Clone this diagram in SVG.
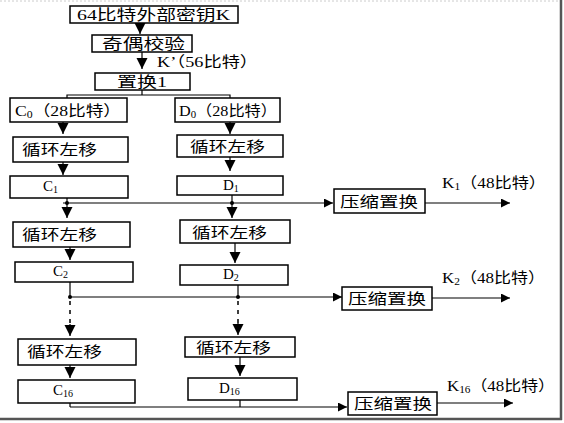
<svg xmlns="http://www.w3.org/2000/svg" width="564" height="423" viewBox="0 0 564 423">
<defs>
<style>
.box{fill:#fff;stroke:#000;stroke-width:1.5}
.ln{fill:none;stroke:#000;stroke-width:1.2}
.dash{fill:none;stroke:#000;stroke-width:1.5;stroke-dasharray:4 5}
.t{font-family:"Liberation Serif","Noto Sans CJK SC",serif;font-size:15px;fill:#000}
.sub{font-size:10px}
</style>
<marker id="av" viewBox="0 0 10 10" refX="10" refY="5" markerUnits="userSpaceOnUse" markerWidth="11" markerHeight="13" orient="auto"><path d="M0,0 L10,5 L0,10 Z" fill="#000"/></marker>
<marker id="ah" viewBox="0 0 10 10" refX="10" refY="5" markerUnits="userSpaceOnUse" markerWidth="15" markerHeight="9" orient="auto"><path d="M0,0 L10,5 L0,10 Z" fill="#000"/></marker>
</defs>
<rect width="564" height="423" fill="#fff"/>
<g id="frame">
<line x1="0" y1="1" x2="560" y2="1" stroke="#ccc" stroke-width="1" stroke-dasharray="2 2"/>
<line x1="561" y1="0" x2="561" y2="420" stroke="#555" stroke-width="2.5"/>
<line x1="0" y1="419" x2="562" y2="419" stroke="#555" stroke-width="2.5"/>
</g>
<g id="connectors">
<line class="ln" x1="140" y1="23" x2="140" y2="34" marker-end="url(#av)"/>
<line class="ln" x1="142" y1="52" x2="142" y2="69" marker-end="url(#av)"/>
<path class="ln" d="M142,90 V95 M67,98 V95 H230 V98"/>
<line class="ln" x1="63" y1="122" x2="63" y2="134" marker-end="url(#av)"/>
<line class="ln" x1="230" y1="122" x2="230" y2="134" marker-end="url(#av)"/>
<line class="ln" x1="63" y1="162" x2="63" y2="175" marker-end="url(#av)"/>
<line class="ln" x1="230" y1="157" x2="230" y2="171" marker-end="url(#av)"/>
<line class="ln" x1="67" y1="198" x2="67" y2="218" marker-end="url(#av)"/>
<line class="ln" x1="232" y1="195" x2="232" y2="218" marker-end="url(#av)"/>
<line class="ln" x1="63" y1="203" x2="333" y2="203" marker-end="url(#ah)"/>
<line class="ln" x1="425" y1="203" x2="510" y2="203" marker-end="url(#ah)"/>
<circle cx="67" cy="203" r="2"/>
<circle cx="232" cy="203" r="2"/>
<line class="ln" x1="70" y1="247" x2="70" y2="260" marker-end="url(#av)"/>
<line class="ln" x1="235" y1="243" x2="235" y2="263" marker-end="url(#av)"/>
<line class="ln" x1="70" y1="282" x2="70" y2="297"/>
<line class="ln" x1="238" y1="285" x2="238" y2="297"/>
<line class="ln" x1="70" y1="297" x2="342" y2="297" marker-end="url(#ah)"/>
<line class="ln" x1="432" y1="298" x2="510" y2="298" marker-end="url(#ah)"/>
<circle cx="70" cy="297" r="2"/>
<circle cx="238" cy="297" r="2"/>
<line class="dash" x1="70" y1="301" x2="70" y2="325"/>
<line class="ln" x1="70" y1="324" x2="70" y2="336" marker-end="url(#av)"/>
<line class="dash" x1="238" y1="301" x2="238" y2="324"/>
<line class="ln" x1="238" y1="323" x2="238" y2="335" marker-end="url(#av)"/>
<line class="ln" x1="70" y1="365" x2="70" y2="378" marker-end="url(#av)"/>
<line class="ln" x1="240" y1="357" x2="240" y2="376" marker-end="url(#av)"/>
<path class="ln" d="M70,403 V407 M240,400 V407"/>
<line class="ln" x1="70" y1="407" x2="347" y2="407" marker-end="url(#ah)"/>
<line class="ln" x1="437" y1="403" x2="513" y2="403" marker-end="url(#ah)"/>
</g>
<g id="key64"><rect class="box" x="70" y="6" width="168" height="17"/><text class="t" x="77" y="20" textLength="153" lengthAdjust="spacingAndGlyphs">64比特外部密钥K</text></g>
<g id="parity"><rect class="box" x="92" y="35" width="100" height="17"/><text class="t" x="102" y="49" textLength="83" lengthAdjust="spacingAndGlyphs">奇偶校验</text></g>
<g id="kprime-label"><text class="t" x="157" y="67" textLength="101" lengthAdjust="spacingAndGlyphs">K’（56比特）</text></g>
<g id="pc1"><rect class="box" x="95" y="73" width="95" height="17"/><text class="t" x="117" y="87" textLength="50" lengthAdjust="spacingAndGlyphs">置换1</text></g>
<g id="c0"><rect class="box" x="10" y="98" width="117" height="24"/><text class="t" x="15" y="116" textLength="106" lengthAdjust="spacingAndGlyphs">C<tspan class="sub" dy="2">0</tspan><tspan dy="-2">（28比特）</tspan></text></g>
<g id="d0"><rect class="box" x="175" y="98" width="105" height="24"/><text class="t" x="179" y="116" textLength="98" lengthAdjust="spacingAndGlyphs">D<tspan class="sub" dy="2">0</tspan><tspan dy="-2">（28比特）</tspan></text></g>
<g id="lsc1"><rect class="box" x="13" y="137" width="115" height="25"/><text class="t" x="22" y="155" textLength="75" lengthAdjust="spacingAndGlyphs">循环左移</text></g>
<g id="lsd1"><rect class="box" x="177" y="135" width="106" height="22"/><text class="t" x="190" y="152" textLength="75" lengthAdjust="spacingAndGlyphs">循环左移</text></g>
<g id="c1"><rect class="box" x="10" y="176" width="118" height="22"/><text class="t" x="43" y="191">C<tspan class="sub" dy="2">1</tspan></text></g>
<g id="d1"><rect class="box" x="177" y="176" width="106" height="19"/><text class="t" x="223" y="190">D<tspan class="sub" dy="2">1</tspan></text></g>
<g id="pc2-1"><rect class="box" x="334" y="189" width="91" height="24"/><text class="t" x="340" y="207" textLength="78" lengthAdjust="spacingAndGlyphs">压缩置换</text></g>
<g id="k1-label"><text class="t" x="442" y="188" textLength="104" lengthAdjust="spacingAndGlyphs">K<tspan class="sub" dy="2">1</tspan><tspan dy="-2">（48比特）</tspan></text></g>
<g id="lsc2"><rect class="box" x="13" y="222" width="117" height="25"/><text class="t" x="22" y="240" textLength="75" lengthAdjust="spacingAndGlyphs">循环左移</text></g>
<g id="lsd2"><rect class="box" x="180" y="220" width="110" height="23"/><text class="t" x="192" y="238" textLength="75" lengthAdjust="spacingAndGlyphs">循环左移</text></g>
<g id="c2"><rect class="box" x="15" y="262" width="118" height="20"/><text class="t" x="53" y="276">C<tspan class="sub" dy="2">2</tspan></text></g>
<g id="d2"><rect class="box" x="180" y="265" width="108" height="20"/><text class="t" x="223" y="279">D<tspan class="sub" dy="2">2</tspan></text></g>
<g id="pc2-2"><rect class="box" x="342" y="287" width="90" height="23"/><text class="t" x="348" y="304" textLength="78" lengthAdjust="spacingAndGlyphs">压缩置换</text></g>
<g id="k2-label"><text class="t" x="442" y="283" textLength="103" lengthAdjust="spacingAndGlyphs">K<tspan class="sub" dy="2">2</tspan><tspan dy="-2">（48比特）</tspan></text></g>
<g id="lsc16"><rect class="box" x="18" y="339" width="118" height="26"/><text class="t" x="27" y="357" textLength="75" lengthAdjust="spacingAndGlyphs">循环左移</text></g>
<g id="lsd16"><rect class="box" x="185" y="337" width="110" height="20"/><text class="t" x="196" y="353" textLength="75" lengthAdjust="spacingAndGlyphs">循环左移</text></g>
<g id="c16"><rect class="box" x="18" y="380" width="117" height="23"/><text class="t" x="53" y="395">C<tspan class="sub" dy="2">16</tspan></text></g>
<g id="d16"><rect class="box" x="188" y="378" width="109" height="22"/><text class="t" x="219" y="393">D<tspan class="sub" dy="2">16</tspan></text></g>
<g id="pc2-16"><rect class="box" x="348" y="392" width="89" height="23"/><text class="t" x="354" y="409" textLength="78" lengthAdjust="spacingAndGlyphs">压缩置换</text></g>
<g id="k16-label"><text class="t" x="447" y="391" textLength="108" lengthAdjust="spacingAndGlyphs">K<tspan class="sub" dy="2">16</tspan><tspan dy="-2">（48比特）</tspan></text></g>
</svg>
